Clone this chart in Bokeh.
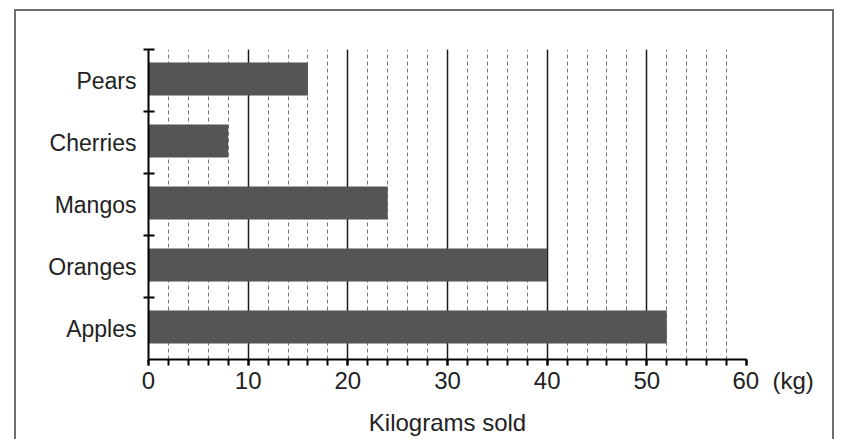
from bokeh.plotting import figure
from bokeh.models import Range1d, FixedTicker, SingleIntervalTicker
from bokeh.embed import file_html
from bokeh.resources import INLINE
import numpy as np

# Data (bottom to top)
fruits = ["Apples", "Oranges", "Mangos", "Cherries", "Pears"]
kilograms = [52, 40, 24, 8, 16]
x_ticks_major = 10
x_max = 60
x_title = "Kilograms sold"
unit_label = "(kg)"

FONT = "Liberation Sans"
TXT = "#222222"
NB = "\u00a0"

centers = np.arange(len(fruits)) + 0.5
bounds = list(np.arange(1, len(fruits) + 1))

p = figure(width=820, height=434, output_backend="svg", toolbar_location=None,
           x_range=Range1d(0, x_max), y_range=Range1d(0, len(fruits)),
           min_border_left=132, min_border_right=90, min_border_top=38, min_border_bottom=86)
p.styles = {"border-top": "2px solid #707070", "border-left": "2px solid #707070",
            "border-right": "2px solid #707070", "margin-left": "14px", "margin-top": "9px",
            "margin-bottom": "-20px"}
p.outline_line_color = None
p.background_fill_color = "white"

p.hbar(y=centers + 0.025, right=kilograms, left=0, height=0.53, color="#555555", line_color=None)

# x axis
p.xaxis.ticker = SingleIntervalTicker(interval=x_ticks_major, num_minor_ticks=5)
p.xaxis.major_label_overrides = {x_max: NB * 8 + str(x_max) + NB * 2 + unit_label}
p.xaxis.axis_line_width = 2
p.xaxis.axis_line_color = "black"
p.xaxis.major_tick_in = 0
p.xaxis.major_tick_out = 6
p.xaxis.major_tick_line_width = 2
p.xaxis.minor_tick_in = 0
p.xaxis.minor_tick_out = 6
p.xaxis.minor_tick_line_width = 2
p.xaxis.major_label_text_font = FONT
p.xaxis.major_label_text_font_size = "24px"
p.xaxis.major_label_text_color = TXT
p.xaxis.major_label_standoff = 1
p.xaxis.axis_label = x_title
p.xaxis.axis_label_text_font = FONT
p.xaxis.axis_label_text_font_size = "24px"
p.xaxis.axis_label_text_font_style = "normal"
p.xaxis.axis_label_text_color = TXT
p.xaxis.axis_label_standoff = 12

# y axis
p.yaxis.ticker = FixedTicker(ticks=list(centers), minor_ticks=bounds)
p.yaxis.major_label_overrides = {float(c): f for c, f in zip(centers, fruits)}
p.yaxis.axis_line_width = 2
p.yaxis.axis_line_color = "black"
p.yaxis.major_tick_line_color = None
p.yaxis.major_tick_in = 0
p.yaxis.major_tick_out = 0
p.yaxis.minor_tick_in = 6
p.yaxis.minor_tick_out = 5
p.yaxis.minor_tick_line_width = 2
p.yaxis.minor_tick_line_color = "black"
p.yaxis.major_label_standoff = 7
p.yaxis.major_label_text_font = FONT
p.yaxis.major_label_text_font_size = "23px"
p.yaxis.major_label_text_color = TXT

# grids
p.ygrid.grid_line_color = None
p.xgrid.grid_line_color = "#1a1a1a"
p.xgrid.grid_line_width = 1.5
p.xgrid.minor_grid_line_color = "#777777"
p.xgrid.minor_grid_line_dash = "4 3"
p.xgrid.minor_grid_line_width = 1

open("out.html", "w").write(file_html(p, INLINE))
